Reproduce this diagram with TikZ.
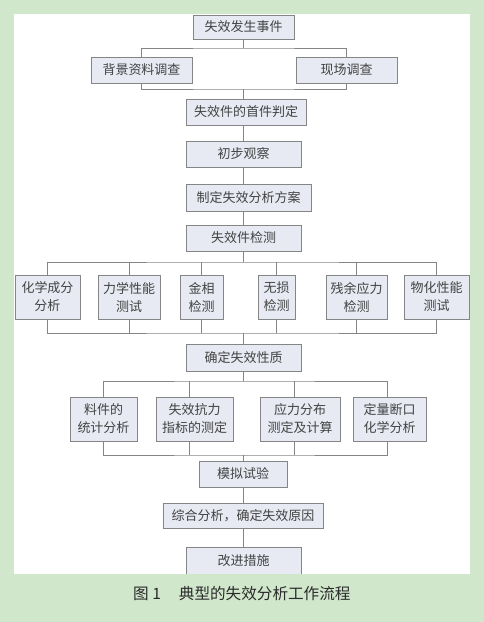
\documentclass[tikz,border=0pt]{standalone}
\usepackage{fontspec}
\newfontfamily\cjk{Noto Sans CJK SC}
\definecolor{bggreen}{HTML}{D0E7CC}
\definecolor{boxfill}{HTML}{E7EAF3}
\definecolor{boxline}{HTML}{858585}
\definecolor{txt}{HTML}{434343}
\definecolor{captxt}{HTML}{2A2A2A}
\tikzset{
  fbox/.style={draw=boxline, fill=boxfill, line width=0.9pt, inner sep=0pt,
    font=\cjk\fontsize{13}{18}\selectfont, text=txt, align=center},
  conn/.style={draw=boxline, line width=0.9pt},
}
\begin{document}
\begin{tikzpicture}[x=1pt,y=-1pt]
\useasboundingbox (0,0) rectangle (484,622);
\fill[bggreen] (0,0) rectangle (484,622);
\fill[white] (14,14) rectangle (470,574);

% main column
\node[fbox, minimum width=101pt, minimum height=24pt] (n1) at (243.5,27) {失效发生事件};
\node[fbox, minimum width=101pt, minimum height=26pt] (n2) at (141.5,70) {背景资料调查};
\node[fbox, minimum width=101pt, minimum height=26pt] (n3) at (346.5,70) {现场调查};
\node[fbox, minimum width=120pt, minimum height=26pt] (n4) at (246,112) {失效件的首件判定};
\node[fbox, minimum width=115pt, minimum height=26pt] (n5) at (243.5,154) {初步观察};
\node[fbox, minimum width=125pt, minimum height=27pt] (n6) at (248.5,197.5) {制定失效分析方案};
\node[fbox, minimum width=115pt, minimum height=26pt] (n7) at (243.5,238) {失效件检测};

\node[fbox, minimum width=65pt, minimum height=44pt] (a1) at (47.5,297) {化学成分\\分析};
\node[fbox, minimum width=62pt, minimum height=44pt] (a2) at (129,297) {力学性能\\测试};
\node[fbox, minimum width=43pt, minimum height=44pt] (a3) at (201.5,297) {金相\\检测};
\node[fbox, minimum width=37pt, minimum height=44pt] (a4) at (276.5,297) {无损\\检测};
\node[fbox, minimum width=61pt, minimum height=44pt] (a5) at (356.5,297) {残余应力\\检测};
\node[fbox, minimum width=65pt, minimum height=44pt] (a6) at (436.5,297) {物化性能\\测试};

\node[fbox, minimum width=115pt, minimum height=27pt] (n8) at (243.5,357.5) {确定失效性质};

\node[fbox, minimum width=67pt, minimum height=44pt] (c1) at (103.5,419) {料件的\\统计分析};
\node[fbox, minimum width=77pt, minimum height=44pt] (c2) at (194.5,419) {失效抗力\\指标的测定};
\node[fbox, minimum width=80pt, minimum height=44pt] (c3) at (300,419) {应力分布\\测定及计算};
\node[fbox, minimum width=73pt, minimum height=44pt] (c4) at (389.5,419) {定量断口\\化学分析};

\node[fbox, minimum width=88pt, minimum height=26pt] (n9) at (243,474) {模拟试验};
\node[fbox, minimum width=160pt, minimum height=25pt] (n10) at (243,515.5) {综合分析，确定失效原因};
\node[fbox, minimum width=115pt, minimum height=27pt] (n11) at (243.5,560.5) {改进措施};

% bus coordinates
\coordinate (sp) at (243.5,0);
\coordinate (b1) at (0,48);
\coordinate (b2) at (0,89);
\coordinate (b3) at (0,262);
\coordinate (b4) at (0,333);
\coordinate (b5) at (0,381);
\coordinate (b6) at (0,455);
\coordinate (d2) at (189,0);
\coordinate (d3) at (294,0);
\coordinate (d4) at (387,0);

% connectors
\draw[conn] (n1.south -| sp) -- (sp |- b1);
\draw[conn] (n2.north) |- (sp |- b1) -| (n3.north);
\draw[conn] (n2.south) |- (sp |- b2) -| (n3.south);
\draw[conn] (sp |- b2) -- (sp |- n4.north);
\draw[conn] (sp |- n4.south) -- (sp |- n5.north);
\draw[conn] (sp |- n5.south) -- (sp |- n6.north);
\draw[conn] (sp |- n6.south) -- (sp |- n7.north);

\draw[conn] (sp |- n7.south) -- (sp |- b3);
\draw[conn] (a1.north) |- (sp |- b3) -| (a6.north);
\foreach \n in {a2,a3,a4,a5} \draw[conn] (\n.north) -- (\n.north |- b3);
\draw[conn] (a1.south) |- (sp |- b4) -| (a6.south);
\foreach \n in {a2,a3,a4,a5} \draw[conn] (\n.south) -- (\n.south |- b4);
\draw[conn] (sp |- b4) -- (sp |- n8.north);

\draw[conn] (sp |- n8.south) -- (sp |- b5);
\draw[conn] (c1.north) |- (sp |- b5) -| (d4 |- c4.north);
\draw[conn] (d2 |- c2.north) -- (d2 |- b5);
\draw[conn] (d3 |- c3.north) -- (d3 |- b5);
\draw[conn] (c1.south) |- (sp |- b6) -| (d4 |- c4.south);
\draw[conn] (d2 |- c2.south) -- (d2 |- b6);
\draw[conn] (d3 |- c3.south) -- (d3 |- b6);
\draw[conn] (sp |- b6) -- (sp |- n9.north);
\draw[conn] (sp |- n9.south) -- (sp |- n10.north);
\draw[conn] (sp |- n10.south) -- (sp |- n11.north);

% cover below white area
\fill[bggreen] (0,574) rectangle (484,622);

\node[font=\cjk\fontsize{15.6}{18}\selectfont, text=captxt, anchor=west, inner sep=0pt] (cap) at (133,594) {图~1\hspace{18pt}典型的失效分析工作流程};
\end{tikzpicture}
\end{document}
